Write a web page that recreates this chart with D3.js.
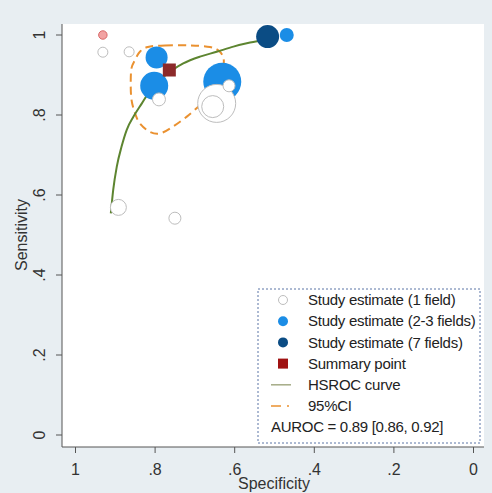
<!DOCTYPE html>
<html>
<head>
<meta charset="utf-8">
<script src="https://cdn.jsdelivr.net/npm/d3@7.9.0/dist/d3.min.js"></script>
<style>
  body { margin: 0; background: #e8eef2; }
  svg { display: block; font-family: "Liberation Sans", Arial, sans-serif; }
</style>
</head>
<body>
<svg id="chart" width="492" height="493"></svg>
<script>
// study estimates: [specificity, sensitivity, weight]
const oneField = [
    [0.930, 0.957, 25],
    [0.864, 0.958, 25],
    [0.644, 0.829, 361],
    [0.654, 0.821, 121],
    [0.789, 0.839, 42],
    [0.613, 0.873, 36],
    [0.891, 0.569, 64],
    [0.749, 0.542, 36]
];
const flagged = [[0.930, 1.0, 18]];
const twoThreeFields = [
    [0.795, 0.944, 121],
    [0.801, 0.873, 196],
    [0.630, 0.883, 361],
    [0.468, 1.0, 49]
];
const sevenFields = [[0.516, 0.996, 132]];
const summary = [0.763, 0.9125];

// HSROC curve
const hsroc = [
    [0.910, 0.554], [0.904, 0.613], [0.895, 0.671], [0.883, 0.721],
    [0.870, 0.763], [0.853, 0.796], [0.832, 0.829], [0.816, 0.854],
    [0.795, 0.879], [0.774, 0.898], [0.753, 0.914], [0.728, 0.929],
    [0.686, 0.946], [0.644, 0.958], [0.602, 0.971], [0.560, 0.981],
    [0.518, 0.989]
];
// 95% confidence region
const ciRegion = [
    [0.817, 0.970], [0.774, 0.974], [0.711, 0.974], [0.661, 0.970],
    [0.636, 0.958], [0.626, 0.935], [0.633, 0.900], [0.653, 0.863],
    [0.676, 0.835], [0.691, 0.820], [0.719, 0.796], [0.754, 0.771],
    [0.786, 0.754], [0.812, 0.758], [0.837, 0.779], [0.849, 0.804],
    [0.858, 0.838], [0.860, 0.879], [0.858, 0.917], [0.849, 0.938],
    [0.837, 0.958]
];

const ticks = [1, 0.8, 0.6, 0.4, 0.2, 0];
const tickLabels = ['1', '.8', '.6', '.4', '.2', '0'];
const legendLabels = [
    'Study estimate (1 field)',
    'Study estimate (2-3 fields)',
    'Study estimate (7 fields)',
    'Summary point',
    'HSROC curve',
    '95%CI'
];
const aurocText = 'AUROC = 0.89 [0.86, 0.92]';

const colors = {
    light: '#1b8de6',
    navy: '#0b4c84',
    summary: '#8c2a2a',
    hollow: '#bdbdbd',
    curve: '#5d8530',
    ci: '#ea9130'
};

const svg = d3.select('#chart');
const x = d3.scaleLinear().domain([1, 0]).range([75, 473]);
const y = d3.scaleLinear().domain([0, 1]).range([435, 35]);
const r = d3.scaleSqrt().domain([0, 400]).range([0, 20]);

const plotLeft = 62, plotRight = 484, plotTop = 24, plotBottom = 447;

svg.append('rect')
    .attr('x', plotLeft).attr('y', plotTop)
    .attr('width', plotRight - plotLeft).attr('height', plotBottom - plotTop)
    .attr('fill', '#fff');

// axes
const yAxis = svg.append('g').attr('transform', `translate(${plotLeft},0)`)
    .call(d3.axisLeft(y).tickValues(ticks).tickSize(6).tickFormat((d, i) => tickLabels[i]));
yAxis.select('.domain').attr('d', `M0,${plotTop}V${plotBottom}`);
yAxis.selectAll('.tick').attr('transform', null);
yAxis.selectAll('.tick line').attr('y1', d => y(d)).attr('y2', d => y(d));
yAxis.selectAll('text')
    .attr('transform', d => `translate(-23,${y(d)}) rotate(-90)`)
    .attr('x', 0).attr('y', 0).attr('dy', '0.35em')
    .attr('text-anchor', 'middle');

const xAxis = svg.append('g').attr('transform', `translate(0,${plotBottom})`)
    .call(d3.axisBottom(x).tickValues(ticks).tickSize(6).tickFormat((d, i) => tickLabels[i]));
xAxis.select('.domain').attr('d', `M${plotLeft},0H${plotRight}`);
xAxis.selectAll('text').attr('y', 28).attr('dy', 0);

svg.selectAll('.domain, .tick line').attr('stroke', '#555');
svg.selectAll('.tick text').attr('font-size', 16).attr('fill', '#333');

svg.append('text')
    .attr('transform', `translate(27,235) rotate(-90)`)
    .attr('text-anchor', 'middle').attr('font-size', 16).attr('fill', '#333')
    .text('Sensitivity');
svg.append('text')
    .attr('x', 274).attr('y', 489)
    .attr('text-anchor', 'middle').attr('font-size', 16).attr('fill', '#333')
    .text('Specificity');

// curves
const line = d3.line().x(d => x(d[0])).y(d => y(d[1]));
svg.append('path')
    .attr('d', line.curve(d3.curveCardinalClosed)(ciRegion))
    .attr('fill', 'none').attr('stroke', colors.ci)
    .attr('stroke-width', 2).attr('stroke-dasharray', '8,5');
svg.append('path')
    .attr('d', line.curve(d3.curveMonotoneX)(hsroc))
    .attr('fill', 'none').attr('stroke', colors.curve).attr('stroke-width', 2);

// studies
function drawStudies(rows, fill, stroke) {
    svg.append('g').selectAll('circle').data(rows).join('circle')
        .attr('cx', d => x(d[0])).attr('cy', d => y(d[1])).attr('r', d => r(d[2]))
        .attr('fill', fill).attr('stroke', stroke);
}
drawStudies(twoThreeFields, colors.light, 'none');
drawStudies(sevenFields, colors.navy, 'none');
drawStudies(oneField, '#fff', colors.hollow);
drawStudies(flagged, '#f2a3a3', '#d96a6a');

svg.append('rect')
    .attr('x', x(summary[0]) - 6.5).attr('y', y(summary[1]) - 6.5)
    .attr('width', 13).attr('height', 13)
    .attr('fill', colors.summary);

// legend
const lg = svg.append('g');
lg.append('rect')
    .attr('x', 258).attr('y', 289).attr('width', 222).attr('height', 154)
    .attr('fill', '#fff').attr('stroke', '#5b74a6').attr('stroke-dasharray', '2,2');

const rowY = i => 300 + i * 21.2;
const mx = 283;
lg.append('circle').attr('cx', mx).attr('cy', rowY(0)).attr('r', 4.5)
    .attr('fill', '#fff').attr('stroke', colors.hollow);
lg.append('circle').attr('cx', mx).attr('cy', rowY(1)).attr('r', 5).attr('fill', colors.light);
lg.append('circle').attr('cx', mx).attr('cy', rowY(2)).attr('r', 5).attr('fill', colors.navy);
lg.append('rect').attr('x', mx - 5).attr('y', rowY(3) - 5).attr('width', 10).attr('height', 10)
    .attr('fill', '#a01212');
lg.append('line').attr('x1', 271).attr('x2', 291).attr('y1', rowY(4)).attr('y2', rowY(4))
    .attr('stroke', '#a5ab86').attr('stroke-width', 1.5);
lg.append('line').attr('x1', 271).attr('x2', 293).attr('y1', rowY(5)).attr('y2', rowY(5))
    .attr('stroke', colors.ci).attr('stroke-width', 1.5).attr('stroke-dasharray', '10,6,2,6');

lg.selectAll('text.item').data(legendLabels).join('text')
    .attr('class', 'item')
    .attr('x', 308).attr('y', (d, i) => rowY(i)).attr('dy', '0.35em')
    .attr('font-size', 15).attr('fill', '#222').attr('letter-spacing', -0.25)
    .text(d => d);
lg.append('text')
    .attr('x', 271).attr('y', rowY(6)).attr('dy', '0.35em')
    .attr('font-size', 15).attr('fill', '#222').attr('letter-spacing', -0.3)
    .text(aurocText);
</script>
</body>
</html>
